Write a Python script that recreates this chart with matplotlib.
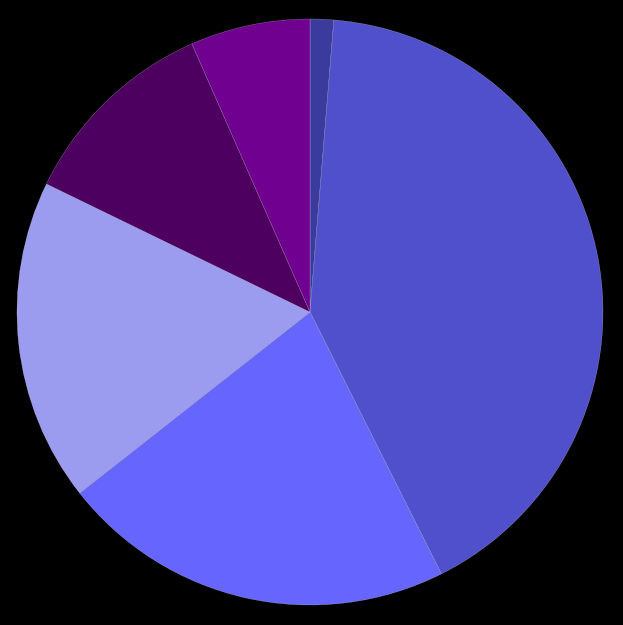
import matplotlib
matplotlib.use("Agg")
import matplotlib.pyplot as plt

labels = ["A", "B", "C", "D", "E", "F"]
values = [1.3, 41.3, 21.8, 17.8, 11.2, 6.6]
colors = ["#3b3b9e", "#5050cc", "#6666ff", "#9b9bf0", "#4d005f", "#6f0090"]

fig = plt.figure(figsize=(6.23, 6.25), dpi=100, facecolor="black")
ax = fig.add_axes([17/623, 20/625, 586/623, 586/625])
ax.set_facecolor("black")
ax.pie(values, colors=colors, startangle=90, counterclock=False, radius=1,
       wedgeprops=dict(linewidth=0.3, edgecolor=(1, 1, 1, 0.45)))
ax.set_xlim(-1, 1)
ax.set_ylim(-1, 1)
ax.set_aspect("equal")
ax.axis("off")
fig.savefig("out.png", dpi=100, facecolor="black")
